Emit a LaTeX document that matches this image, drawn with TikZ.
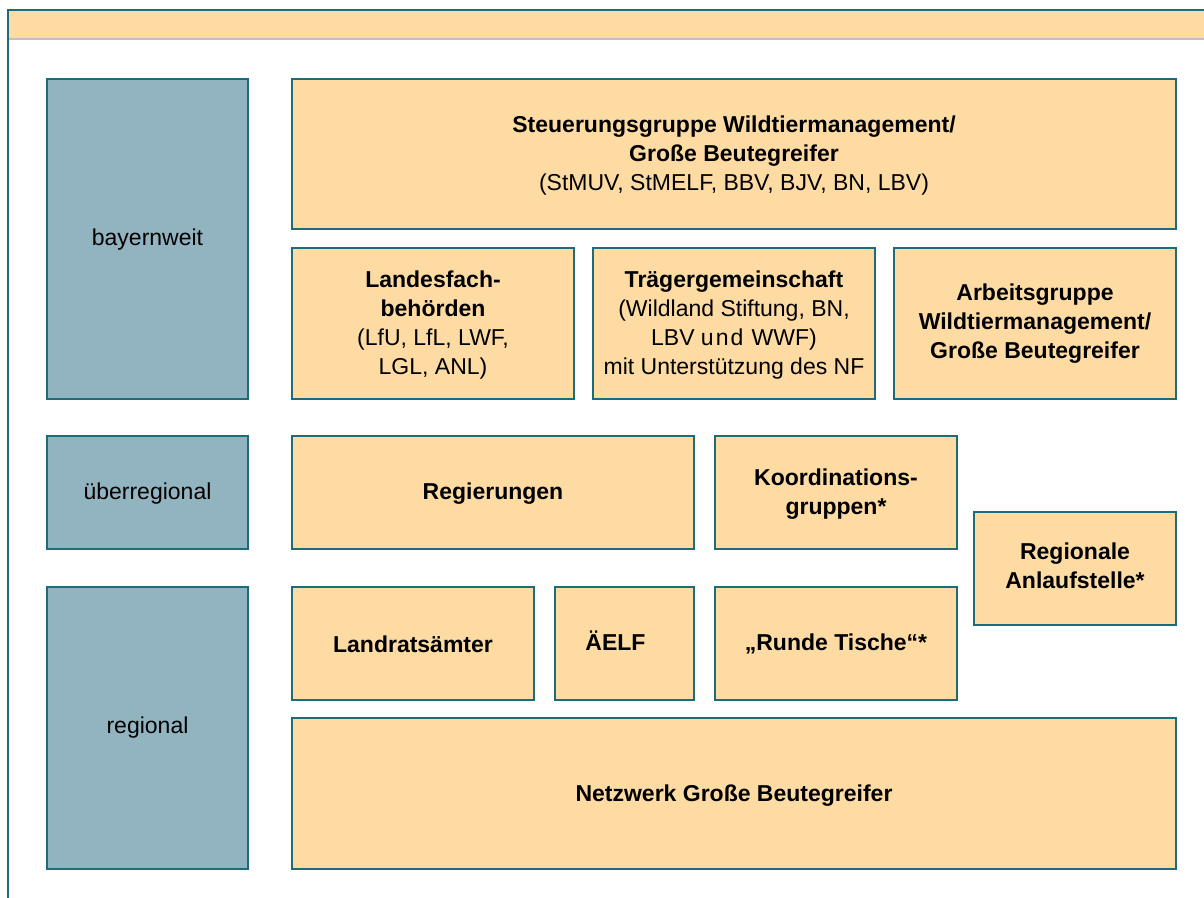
\documentclass[tikz,border=0pt]{standalone}
\usepackage{fontspec}
\setmainfont{Liberation Sans}
\definecolor{org}{RGB}{253,219,163}
\definecolor{blu}{RGB}{146,180,192}
\definecolor{tea}{RGB}{30,108,122}
\definecolor{gry}{RGB}{192,192,192}
\tikzset{
  base/.style={draw=tea, line width=2.4pt, inner sep=0pt, align=center,
    font=\fontsize{23}{29}\selectfont},
  obox/.style={base, fill=org},
  bbox/.style={base, fill=blu},
  lbl/.style={align=center, font=\fontsize{23}{29}\selectfont, inner sep=0pt},
}
\newcommand{\bx}[8]{%
  \node[#6, minimum width={(#4-#2)*1pt}, minimum height={(#5-#3)*1pt}]
    (#1) at ({(#2+#4)/2},{(#3+#5)/2}) {};
  \node[lbl, yshift=#8] (#1t) at (#1.center) {#7};
}
\begin{document}
\begin{tikzpicture}[x=1pt,y=-1pt]
\useasboundingbox (0,0) rectangle (1204,897);
% banner and frame
\fill[org] (8,10) rectangle (1210,39);
\draw[gry, line width=1.2pt] (8,39) -- (1210,39);
\draw[tea, line width=2pt] (8,900) -- (8,10) -- (1210,10);
% left column
\bx{bw}{47}{79}{248}{399}{bbox}{bayernweit}{-1pt}
\bx{ur}{47}{436}{248}{549}{bbox}{überregional}{-1pt}
\bx{rg}{47}{587}{248}{869}{bbox}{regional}{0pt}
% orange boxes
\bx{st}{292}{79}{1176}{229}{obox}{\textbf{Steuerungsgruppe Wildtiermanagement/}\\\textbf{Große Beutegreifer}\\(StMUV, StMELF, BBV, BJV, BN, LBV)}{-2pt}
\bx{lf}{292}{248}{574}{399}{obox}{\textbf{Landesfach-}\\\textbf{behörden}\\(LfU, LfL, LWF,\\LGL, ANL)}{-1.5pt}
\bx{tg}{593}{248}{875}{399}{obox}{\textbf{Trägergemeinschaft}\\(Wildland Stiftung, BN,\\LBV u\kern2pt n\kern2pt d\kern2pt\ WWF)\\mit Unterstützung des NF}{-1.5pt}
\bx{ag}{894}{248}{1176}{399}{obox}{\textbf{Arbeitsgruppe}\\\textbf{Wildtiermanagement/}\\\textbf{Große Beutegreifer}}{0pt}
\bx{re}{292}{436}{694}{549}{obox}{\textbf{Regierungen}}{-1.5pt}
\bx{kg}{715}{436}{957}{549}{obox}{\textbf{Koordinations-}\\\textbf{gruppen*}}{-1.5pt}
\bx{ra}{974}{512}{1176}{625}{obox}{\textbf{Regionale}\\\textbf{Anlaufstelle*}}{2.5pt}
\bx{la}{292}{587}{534}{700}{obox}{\textbf{Landratsämter}}{-0.5pt}
\bx{ae}{555}{587}{694}{700}{obox}{}{0pt}
\node[lbl, font=\fontsize{23}{29}\selectfont\bfseries] (aet) at (615.5,641) {ÄELF};
\bx{rt}{715}{587}{957}{700}{obox}{\textbf{„Runde Tische“*}}{0pt}
\bx{nw}{292}{718}{1176}{869}{obox}{\textbf{Netzwerk Große Beutegreifer}}{-2pt}
\end{tikzpicture}
\end{document}
